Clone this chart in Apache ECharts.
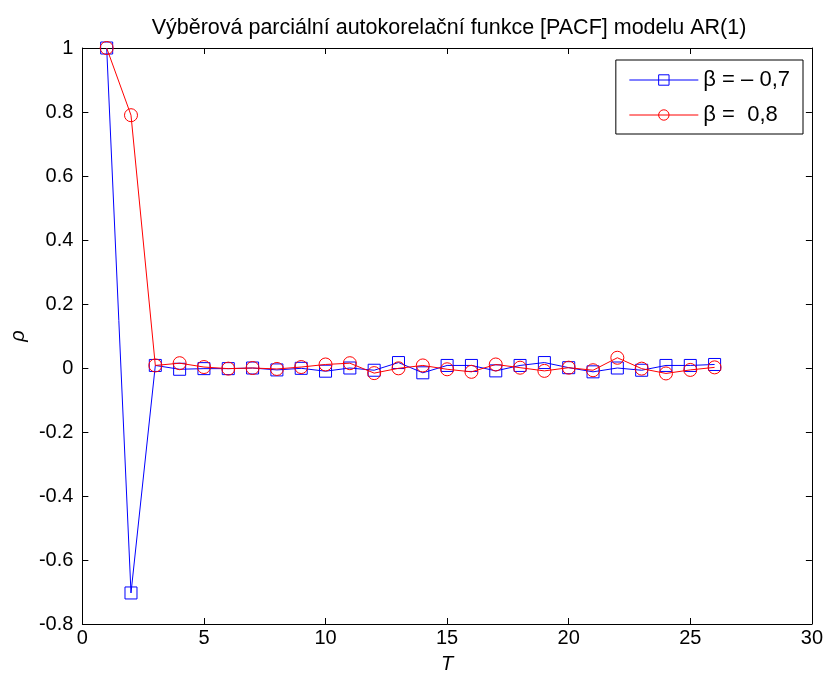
<!DOCTYPE html>
<html>
<head>
<meta charset="utf-8">
<script src="https://cdn.jsdelivr.net/npm/echarts@6/dist/echarts.min.js"></script>
<style>
  html, body { margin: 0; padding: 0; background: #fff; }
  #chart { width: 826px; height: 680px; }
</style>
</head>
<body>
<div id="chart"></div>
<script>
// Lags of the sample PACF
const lags = [1, 2, 3, 4, 5, 6, 7, 8, 9, 10, 11, 12, 13, 14, 15, 16, 17, 18, 19, 20, 21, 22, 23, 24, 25, 26];
// AR(1) with beta = -0.7
const pacfNeg = [1, -0.703, 0.008, -0.004, -0.002, -0.002, 0, -0.006, -0.001, -0.01, 0.0, -0.007, 0.017, -0.015, 0.008, 0.008, -0.009, 0.008, 0.017, 0.001, -0.012, 0.0, -0.007, 0.008, 0.008, 0.011];
// AR(1) with beta = 0.8
const pacfPos = [1, 0.79, 0.008, 0.015, 0.003, -0.002, 0, -0.003, 0.003, 0.011, 0.015, -0.016, -0.001, 0.008, -0.004, -0.012, 0.011, 0.001, -0.009, 0.001, -0.007, 0.032, -0.002, -0.017, -0.006, 0.002];
const seriesNames = ['β = – 0,7', 'β =  0,8'];

const font = "'Liberation Sans', Arial, sans-serif";
const chart = echarts.init(document.getElementById('chart'), null, { renderer: 'canvas' });

const pair = (ys) => lags.map((x, i) => [x, ys[i]]);

const axisCommon = {
  axisLine: { show: true, onZero: false, lineStyle: { color: '#000', width: 1 } },
  axisTick: { show: true, inside: true, length: 6, lineStyle: { color: '#000' } },
  splitLine: { show: false }
};

chart.setOption({
  animation: false,
  backgroundColor: '#fff',
  title: {
    text: 'Výběrová parciální autokorelační funkce [PACF] modelu AR(1)',
    left: 444, top: 12, textAlign: 'center',
    textStyle: { fontFamily: font, fontSize: 21.5, fontWeight: 'normal', color: '#000' }
  },
  grid: { left: 82, top: 48, right: 8, bottom: 56 },
  legend: {
    right: 23, top: 60,
    orient: 'vertical',
    backgroundColor: '#fff',
    borderColor: '#000', borderWidth: 1, borderRadius: 0,
    padding: [9, 13, 8, 13],
    itemGap: 13,
    itemWidth: 69, itemHeight: 13,
    lineStyle: { width: 1 },
    itemStyle: { borderWidth: 1 },
    textStyle: { fontFamily: font, fontSize: 22, lineHeight: 22, color: '#000' },
    data: seriesNames
  },
  xAxis: [
    Object.assign({
      type: 'value', min: 0, max: 30, interval: 5, position: 'bottom',
      name: 'T', nameLocation: 'middle', nameGap: 30,
      nameTextStyle: { fontFamily: font, fontSize: 20, fontStyle: 'italic', color: '#000' },
      axisLabel: { fontFamily: font, fontSize: 20, color: '#000', margin: 4 }
    }, axisCommon),
    Object.assign({
      type: 'value', min: 0, max: 30, interval: 5, position: 'top',
      axisLabel: { show: false }
    }, axisCommon)
  ],
  yAxis: [
    Object.assign({
      type: 'value', min: -0.8, max: 1, interval: 0.2, position: 'left',
      name: 'ρ', nameLocation: 'middle', nameGap: 46, nameRotate: 90,
      nameTextStyle: { fontFamily: font, fontSize: 20, fontStyle: 'italic', color: '#000' },
      axisLabel: { fontFamily: font, fontSize: 20, color: '#000', margin: 9,
        formatter: (v) => String(+v.toFixed(1)) }
    }, axisCommon),
    Object.assign({
      type: 'value', min: -0.8, max: 1, interval: 0.2, position: 'right',
      axisLabel: { show: false }
    }, axisCommon)
  ],
  series: [
    {
      name: seriesNames[0], type: 'line', data: pair(pacfNeg),
      symbol: 'rect', symbolSize: 12,
      lineStyle: { color: '#0000ff', width: 1 },
      itemStyle: { color: 'rgba(255,255,255,0)', borderColor: '#0000ff', borderWidth: 1 },
      z: 2
    },
    {
      name: seriesNames[1], type: 'line', data: pair(pacfPos),
      symbol: 'circle', symbolSize: 13,
      lineStyle: { color: '#ff0000', width: 1 },
      itemStyle: { color: 'rgba(255,255,255,0)', borderColor: '#ff0000', borderWidth: 1 },
      z: 3
    }
  ]
});
</script>
</body>
</html>
